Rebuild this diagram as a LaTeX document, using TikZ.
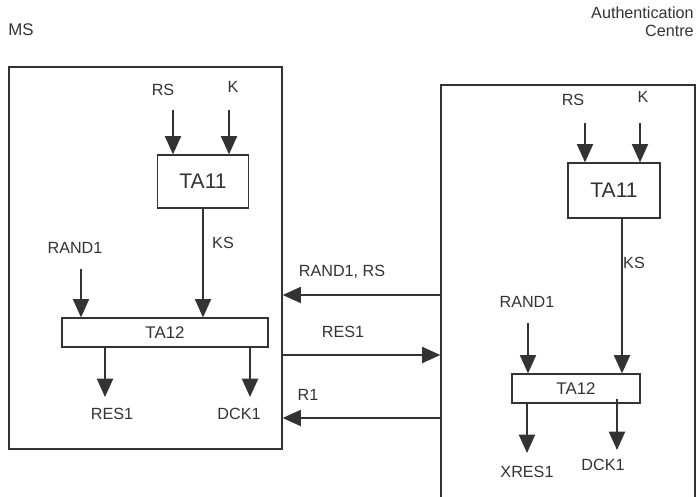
\documentclass[tikz,border=0pt]{standalone}
\usepackage{fontspec}
\setmainfont{Liberation Sans}
\usetikzlibrary{arrows.meta}
\definecolor{ink}{HTML}{333333}
\tikzset{
  blk/.style={draw=ink, text=ink, line width=0.9pt, inner sep=0pt},
  sig/.style={draw=ink, line width=1pt, -{Triangle[length=13pt,width=11.5pt]}},
  lbl/.style={text=ink, font=\fontsize{11.5}{12.8}\selectfont, inner sep=0pt},
}
\begin{document}
\begin{tikzpicture}[x=0.025cm,y=-0.025cm]
  \useasboundingbox (0,0) rectangle (697,497);
  % outer boxes
  \node[blk, minimum width=6.825cm, minimum height=9.55cm] (ms) at (145.5,258) {};
  \node[blk, minimum width=6.35cm, minimum height=10.875cm] (auc) at (568,302.5) {};
  \node[lbl, font=\fontsize{12}{12}\selectfont] (msL) at (21,30) {MS};
  \node[lbl, anchor=north east, align=right] (aucL) at (694,7) {Authentication\\Centre};

  % MS side
  \node[blk, minimum width=2.275cm, minimum height=1.325cm, font=\fontsize{15}{15}\selectfont] (taL) at (203,181.5) {TA11};
  \node[blk, minimum width=5.15cm, minimum height=0.725cm, font=\fontsize{12}{12}\selectfont] (tbL) at (165,332.5) {TA12};
  \node[lbl] (rsL) at (163,90) {RS};
  \node[lbl] (kL) at (233,87) {K};
  \coordinate (rsLa) at (173,110);
  \coordinate (kLa) at (229,110);
  \draw[sig] (rsLa) -- (rsLa |- taL.north);
  \draw[sig] (kLa) -- (kLa |- taL.north);
  \node[lbl] (ksL) at (223,243) {KS};
  \draw[sig] (taL.south) -- (taL.south |- tbL.north);
  \node[lbl] (randL) at (75,248) {RAND1};
  \coordinate (randLa) at (81,269);
  \draw[sig] (randLa) -- (randLa |- tbL.north);
  \node[lbl] (resL) at (112,414) {RES1};
  \node[lbl] (dckL) at (239,414) {DCK1};
  \coordinate (resLa) at (105,397);
  \coordinate (dckLa) at (250,397);
  \draw[sig] (tbL.south -| resLa) -- (resLa);
  \draw[sig] (tbL.south -| dckLa) -- (dckLa);

  % messages
  \coordinate (row1) at (0,295);
  \coordinate (row2) at (0,355);
  \coordinate (row3) at (0,418);
  \draw[sig] (auc.west |- row1) -- (ms.east |- row1);
  \draw[sig] (ms.east |- row2) -- (auc.west |- row2);
  \draw[sig] (auc.west |- row3) -- (ms.east |- row3);
  \node[lbl] (m1) at (342,272) {RAND1, RS};
  \node[lbl] (m2) at (343,332) {RES1};
  \node[lbl] (m3) at (308,395) {R1};

  % AuC side
  \node[blk, minimum width=2.3cm, minimum height=1.375cm, font=\fontsize{15}{15}\selectfont] (taR) at (614,190.5) {TA11};
  \node[blk, minimum width=3.2cm, minimum height=0.725cm, font=\fontsize{12}{12}\selectfont] (tbR) at (576,388.5) {TA12};
  \node[lbl] (rsR) at (573,100) {RS};
  \node[lbl] (kR) at (643,97) {K};
  \coordinate (rsRa) at (585,123);
  \coordinate (kRa) at (640,123);
  \draw[sig] (rsRa) -- (rsRa |- taR.north);
  \draw[sig] (kRa) -- (kRa |- taR.north);
  \node[lbl] (ksR) at (634,263) {KS};
  \coordinate (ksRa) at (622,0);
  \draw[sig] (taR.south -| ksRa) -- (tbR.north -| ksRa);
  \node[lbl] (randR) at (527,302) {RAND1};
  \coordinate (randRa) at (528,323);
  \draw[sig] (randRa) -- (randRa |- tbR.north);
  \node[lbl] (xresR) at (527,472) {XRES1};
  \node[lbl] (dckR) at (603,465) {DCK1};
  \coordinate (xresRa) at (527,453);
  \coordinate (dckRa) at (617,450);
  \draw[sig] (tbR.south -| xresRa) -- (xresRa);
  \draw[sig] (tbR.south -| dckRa) ++(0,-5) -- (dckRa);
\end{tikzpicture}
\end{document}
